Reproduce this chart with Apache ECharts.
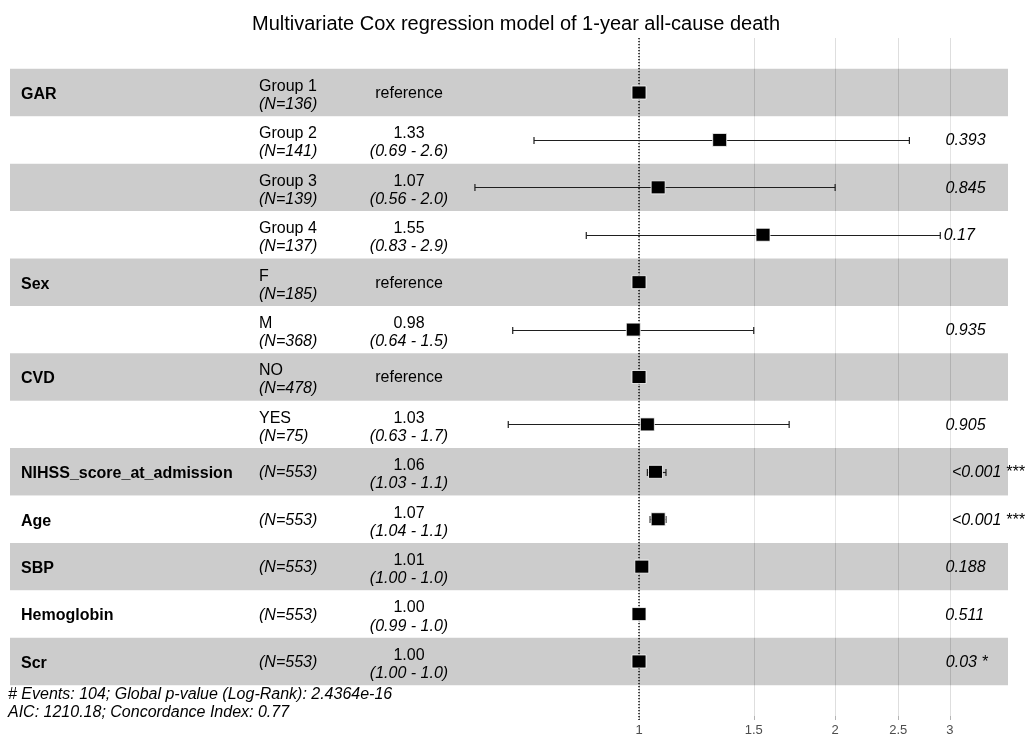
<!DOCTYPE html>
<html>
<head>
<meta charset="utf-8">
<title>Multivariate Cox regression model of 1-year all-cause death</title>
<script src="https://cdn.jsdelivr.net/npm/echarts@6.0.0/dist/echarts.min.js"></script>
<style>
  html, body { margin: 0; padding: 0; background: #ffffff; }
  #chart { width: 1027px; height: 734px; }
</style>
</head>
<body>
<div id="chart"></div>
<script>
// ---- Model table: one entry per row, top to bottom ----
const variables = ['GAR', '', '', '', 'Sex', '', 'CVD', '', 'NIHSS_score_at_admission', 'Age', 'SBP', 'Hemoglobin', 'Scr'];
const levels = ['Group 1', 'Group 2', 'Group 3', 'Group 4', 'F', 'M', 'NO', 'YES', '', '', '', '', ''];
const counts = [136, 141, 139, 137, 185, 368, 478, 75, 553, 553, 553, 553, 553];
const isReference = [true, false, false, false, true, false, true, false, false, false, false, false, false];
const hazardRatios = [1, 1.33, 1.07, 1.55, 1, 0.98, 1, 1.03, 1.06, 1.07, 1.01, 1.00, 1.00];
const ciLower = [null, 0.69, 0.56, 0.83, null, 0.64, null, 0.63, 1.03, 1.04, 1.00, 0.99, 1.00];
const ciUpper = [null, 2.6, 2.0, 2.9, null, 1.5, null, 1.7, 1.1, 1.1, 1.0, 1.0, 1.0];
const pValues = ['', '0.393', '0.845', '0.17', '', '0.935', '', '0.905', '<0.001', '<0.001', '0.188', '0.511', '0.03'];
const stars = ['', '', '', '', '', '', '', '', '***', '***', '', '', '*'];

// ---- Hazard-ratio axis ticks ----
const tickValues = [1, 1.5, 2, 2.5, 3];
const tickLabels = ['1', '1.5', '2', '2.5', '3'];

// ---- Texts ----
const chartTitle = 'Multivariate Cox regression model of 1-year all-cause death';
const footerLines = [
  '# Events: 104; Global p-value (Log-Rank): 2.4364e-16',
  'AIC: 1210.18; Concordance Index: 0.77'
];

// ---- Layout ----
const FONT = '"Liberation Sans", Arial, Helvetica, sans-serif';
const X_MIN = 0.1083, X_MAX = 3.684;          // log-scale extent of the panel
const Y_MIN = -0.15, Y_MAX = 14.15;           // row axis extent (rows sit at 1..13)
const VAR_X = 21, LEVEL_X = 259, EST_X = 409, P_X = 937.5;
const nRows = variables.length;
const rowPos = i => nRows - i;

const measureCtx = document.createElement('canvas').getContext('2d');
function textWidth(str, font) { measureCtx.font = font; return measureCtx.measureText(str).width; }

function txt(text, x, y, opts) {
  return {
    type: 'text',
    style: Object.assign({
      text: text, x: x, y: y, fill: '#000000', fontSize: 16, fontFamily: FONT,
      align: 'left', verticalAlign: 'middle'
    }, opts || {})
  };
}

const chart = echarts.init(document.getElementById('chart'), null, { renderer: 'canvas' });

const option = {
  animation: false,
  backgroundColor: '#ffffff',
  title: {
    text: chartTitle,
    left: 511, top: 9, textAlign: 'center',
    textStyle: { fontFamily: FONT, fontSize: 20, fontWeight: 'normal', color: '#000000' }
  },
  grid: { left: 10, right: 19, top: 38, bottom: 18, containLabel: false },
  xAxis: {
    type: 'log', logBase: Math.E, min: X_MIN, max: X_MAX,
    axisLine: { show: false }, axisTick: { show: false }, axisLabel: { show: false }, splitLine: { show: false }
  },
  yAxis: {
    type: 'value', min: Y_MIN, max: Y_MAX,
    axisLine: { show: false }, axisTick: { show: false }, axisLabel: { show: false }, splitLine: { show: false }
  },
  series: [
    // vertical grid lines, tick marks and tick labels
    {
      type: 'custom', z: 1, silent: true, clip: false,
      data: tickValues.map(v => [v, Y_MIN]),
      renderItem(params, api) {
        const v = api.value(0);
        const top = api.coord([v, Y_MAX]);
        const bot = api.coord([v, Y_MIN]);
        const x = Math.round(top[0]) + 0.5;
        return {
          type: 'group',
          children: [
            { type: 'line', shape: { x1: x, y1: top[1], x2: x, y2: bot[1] }, style: { stroke: '#dedede', lineWidth: 1 } },
            { type: 'line', shape: { x1: x, y1: bot[1], x2: x, y2: bot[1] + 4 }, style: { stroke: '#b3b3b3', lineWidth: 1 } },
            txt(tickLabels[params.dataIndex], top[0], bot[1] + 14, { fill: '#4d4d4d', fontSize: 13, align: 'center' })
          ]
        };
      }
    },
    // alternating row bands
    {
      type: 'custom', z: 2, silent: true,
      data: variables.map((_, i) => [1, rowPos(i)]),
      renderItem(params, api) {
        const i = params.dataIndex;
        const yv = api.value(1);
        const cs = params.coordSys;
        const a = api.coord([1, yv + 0.5]);
        const b = api.coord([1, yv - 0.5]);
        return {
          type: 'rect',
          shape: { x: cs.x, y: a[1], width: cs.width, height: b[1] - a[1] },
          style: { fill: i % 2 === 0 ? 'rgba(0,0,0,0.2)' : 'rgba(255,255,255,0.2)' }
        };
      }
    },
    // dotted reference line at HR = 1
    {
      type: 'custom', z: 3, silent: true, clip: false,
      data: [[1, Y_MIN]],
      renderItem(params, api) {
        const top = api.coord([1, Y_MAX]);
        const bot = api.coord([1, Y_MIN]);
        return {
          type: 'line',
          shape: { x1: top[0], y1: top[1], x2: top[0], y2: bot[1] + 4 },
          style: { stroke: '#000000', lineWidth: 1.4, lineDash: [1.2, 1.8] }
        };
      }
    },
    // confidence-interval error bars
    {
      type: 'custom', z: 4, silent: true,
      encode: { x: [0, 1], y: 2 },
      data: hazardRatios.map((_, i) => ciLower[i] == null ? null : [ciLower[i], ciUpper[i], rowPos(i)]).filter(d => d),
      renderItem(params, api) {
        const lo = api.coord([api.value(0), api.value(2)]);
        const hi = api.coord([api.value(1), api.value(2)]);
        const y = Math.round(lo[1]) + 0.5;
        const cap = 3.6;
        const st = { stroke: '#1f1f1f', lineWidth: 1.2 };
        return {
          type: 'group',
          children: [
            { type: 'line', shape: { x1: lo[0], y1: y, x2: hi[0], y2: y }, style: st },
            { type: 'line', shape: { x1: lo[0], y1: y - cap, x2: lo[0], y2: y + cap }, style: st },
            { type: 'line', shape: { x1: hi[0], y1: y - cap, x2: hi[0], y2: y + cap }, style: st }
          ]
        };
      }
    },
    // hazard-ratio point estimates
    {
      type: 'scatter', z: 5, silent: true,
      symbol: 'rect', symbolSize: [14, 13],
      itemStyle: { color: '#000000', borderColor: '#ffffff', borderWidth: 0.8, opacity: 1 },
      data: hazardRatios.map((v, i) => [v, rowPos(i)])
    },
    // table text: variable, level / N, estimate / CI, p-value
    {
      type: 'custom', z: 6, silent: true, clip: false,
      data: variables.map((_, i) => [1, rowPos(i)]),
      renderItem(params, api) {
        const i = params.dataIndex;
        const yc = api.coord([1, api.value(1)])[1];
        const kids = [];
        if (variables[i]) kids.push(txt(variables[i], VAR_X, yc + 2, { fontWeight: 'bold' }));
        const nText = '(N=' + counts[i] + ')';
        if (levels[i]) {
          kids.push(txt(levels[i], LEVEL_X, yc - 6));
          kids.push(txt(nText, LEVEL_X, yc + 12, { fontStyle: 'italic' }));
        } else {
          kids.push(txt(nText, LEVEL_X, yc + 1, { fontStyle: 'italic' }));
        }
        if (isReference[i]) {
          kids.push(txt('reference', EST_X, yc + 1, { align: 'center' }));
        } else {
          kids.push(txt(hazardRatios[i].toFixed(2), EST_X, yc - 6, { align: 'center' }));
          const ci = '(' + ciLower[i].toFixed(2) + ' - ' + ciUpper[i].toFixed(1) + ')';
          kids.push(txt(ci, EST_X, yc + 12, { align: 'center', fontStyle: 'italic' }));
        }
        if (pValues[i]) {
          const label = stars[i] ? pValues[i] + ' ' + stars[i] : pValues[i];
          const w = textWidth(label, 'italic 16px ' + FONT);
          kids.push(txt(label, P_X + 0.2 * w, yc + 1, { fontStyle: 'italic' }));
        }
        return { type: 'group', children: kids };
      }
    }
  ],
  graphic: footerLines.map((line, k) => ({
    type: 'text', left: 8, top: 687 + k * 18, silent: true,
    style: { text: line, fill: '#000000', fontSize: 16, fontStyle: 'italic', fontFamily: FONT }
  }))
};

chart.setOption(option);
</script>
</body>
</html>
